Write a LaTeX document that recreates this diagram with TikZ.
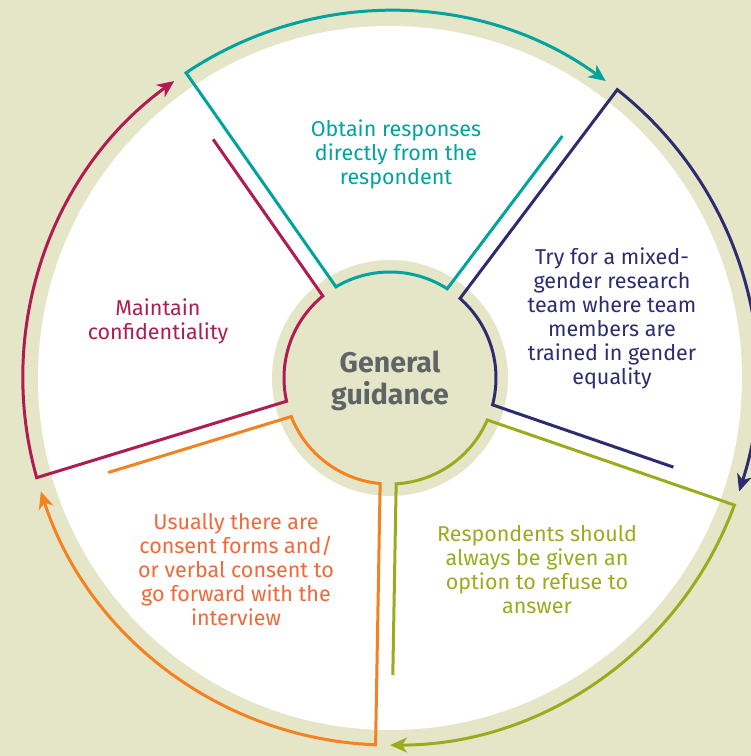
\documentclass[tikz,border=0pt]{standalone}
\usepackage{fontspec}
\setmainfont{Fira Sans}
\usetikzlibrary{arrows.meta,calc}
\definecolor{bg}{RGB}{229,230,200}
\definecolor{cteal}{RGB}{0,163,158}
\definecolor{cnavy}{RGB}{46,44,112}
\definecolor{colive}{RGB}{156,171,30}
\definecolor{corange}{RGB}{244,130,32}
\definecolor{corangetxt}{RGB}{240,105,55}
\definecolor{cmag}{RGB}{176,28,82}
\definecolor{cgray}{RGB}{95,101,102}
\tikzset{
  outline/.style={line width=3pt, line join=miter, -{Stealth[length=17pt,width=15pt,inset=5pt]}},
  label/.style={align=center, font=\fontsize{21.5}{24}\selectfont, inner sep=0pt},
}
\newcommand\sectoroutline[3]{%
  \draw[outline, #1]
    ($(#3:297)+(#3+90:8)$) -- ($(#3:105.7)+(#3+90:8)$)
    arc[start angle=#3+4.33, end angle=#2-4.33, radius=106]
    -- ($(#2:367)+(#2-90:8)$)
    arc[start angle=#2-1.25, end angle=#3+1, radius=367.1];
}
\begin{document}
\begin{tikzpicture}[x=1pt,y=1pt]
\useasboundingbox (-390,-378) rectangle (361,378);
\clip (-390,-378) rectangle (361,378);
\fill[bg] (-390,-378) rectangle (361,378);
\fill[white] (0,0) circle (352);
\fill[bg] (0,0) circle (118);
\sectoroutline{cteal}{125}{53}
\sectoroutline{cnavy}{53}{-19}
\sectoroutline{colive}{-19}{-91}
\sectoroutline{corange}{-91}{-163}
\sectoroutline{cmag}{197}{125}
\node[label, text=cteal] (t1) at (6,224) {Obtain responses\\directly from the\\respondent};
\node[label, text=cnavy] (t2) at (222,60) {Try for a mixed-\\gender research\\team where team\\members are\\trained in gender\\equality};
\node[label, text=colive] (t3) at (147,-192) {Respondents should\\always be given an\\option to refuse to\\answer};
\node[label, text=corangetxt] (t4) at (-154,-192) {Usually there are\\consent forms and/\\or verbal consent to\\go forward with the\\interview};
\node[label, text=cmag] (t5) at (-232,57) {Maintain\\confidentiality};
\node[align=center, font=\fontsize{28.5}{32}\selectfont\bfseries, text=cgray, inner sep=0pt] (c) at (0,-3) {General\\guidance};
\end{tikzpicture}
\end{document}
